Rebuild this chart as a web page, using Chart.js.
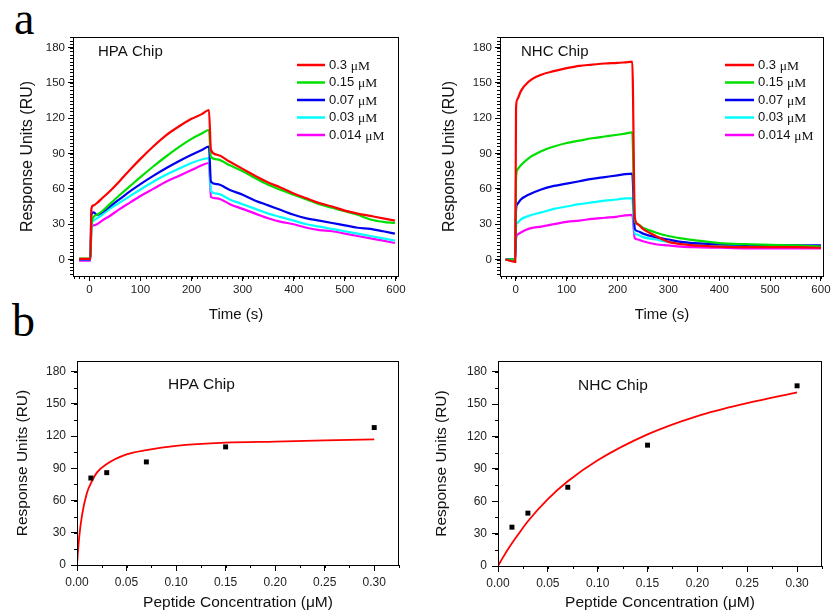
<!DOCTYPE html>
<html>
<head>
<meta charset="utf-8">
<script src="https://cdn.jsdelivr.net/npm/chart.js@4.4.0/dist/chart.umd.min.js"></script>
<style>
  body { margin: 0; background: #fff; }
  #fig { position: relative; width: 834px; height: 613px; overflow: hidden; background: #fff; }
  #fig canvas { position: absolute; }
  .panel { position: absolute; font-family: 'Liberation Serif', 'Times New Roman', serif; font-size: 46px; line-height: 1; color: #000; }
</style>
</head>
<body>
<div id="fig">
  <div class="panel" style="left:14px;top:-4px">a</div>
  <div class="panel" style="left:12px;top:298px">b</div>
  <canvas id="c1" width="417" height="330" style="left:0;top:0"></canvas>
  <canvas id="c2" width="417" height="330" style="left:417px;top:0"></canvas>
  <canvas id="c3" width="417" height="283" style="left:0;top:330px"></canvas>
  <canvas id="c4" width="417" height="283" style="left:417px;top:330px"></canvas>
</div>
<script>
// concentrations of the injected peptide (legend) and line colours
const concLabels = ['0.3', '0.15', '0.07', '0.03', '0.014'];
const lineColors = ['#ff0000', '#00e000', '#0000f0', '#00ffff', '#ff00ff'];

// sensorgram, HPA chip
const hpaTime    = [-20, 2, 4, 8, 15, 25, 40, 60, 80, 100, 125, 150, 175, 200, 220, 234, 238, 250, 275, 300, 325, 350, 375, 400, 425, 450, 475, 500, 525, 550, 575, 598];
const hpaRed     = [0.5, 0.5, 43, 46, 48, 52, 58, 67, 76.5, 85.5, 96, 105.5, 113, 119.5, 123.5, 127, 93, 89, 83, 77, 71, 65.5, 61, 56, 52, 48, 45, 41.5, 39, 37, 35, 33];
const hpaGreen   = [0.8, 0.8, 28, 36, 38, 41, 47, 55, 62.5, 70, 79, 87.5, 95.5, 102.5, 107, 110, 87, 85, 80, 75, 69, 63.5, 59, 55, 51, 47, 44, 41, 38, 34, 32, 31];
const hpaBlue    = [0, 0, 38, 40, 38, 40, 45, 51.5, 58, 64, 71, 77.5, 83.5, 89, 93, 96, 66, 64, 59, 55, 50, 46, 42, 38, 35, 33, 31, 29, 27, 26, 24, 22];
const hpaCyan    = [0, 0, 28, 33, 35, 38, 43, 48.5, 54, 59.5, 66, 72, 77, 82, 85, 86, 58, 56, 51, 47, 43, 39, 36, 33, 30, 28, 26, 24, 22, 20, 18, 16];
const hpaMagenta = [-1, -1, 27, 29, 30, 33, 37, 43, 48.5, 54, 60, 66, 71, 76, 80, 82, 53, 52, 47, 43, 39, 35, 32, 30, 27, 25, 24, 22, 20, 18, 16, 14];

// sensorgram, NHC chip
const nhcTime    = [-20, -1, 0.5, 3, 10, 25, 50, 75, 100, 125, 150, 175, 200, 215, 229, 234, 240, 250, 275, 300, 325, 350, 400, 450, 500, 550, 600];
const nhcRed     = [0, -2, 128, 136, 143, 151, 157, 160, 162.5, 164.5, 165.5, 166.5, 167, 167.5, 168, 36, 30, 26, 20, 15, 13, 12, 11, 10.5, 10.5, 10.5, 10];
const nhcGreen   = [0, 0, 68, 76, 80, 86, 92, 96, 99, 101, 103, 104.5, 106, 107, 108, 33, 30, 27, 23, 20, 18, 16.5, 14, 13, 12.5, 12, 11];
const nhcBlue    = [0, 0, 42, 47, 51, 55, 59.5, 62.5, 64.5, 66.5, 68.5, 70, 71.5, 72.5, 73, 26, 24, 22, 19, 17, 15, 14, 13, 12.5, 12, 12, 12];
const nhcCyan    = [0, 0, 28, 31, 34, 37, 40, 43, 45, 47, 48.5, 50, 51, 52, 52, 22, 21, 19, 17, 15, 14, 13, 12, 11.5, 11, 11, 11];
const nhcMagenta = [0, 0, 18, 21, 23, 26, 28, 30, 32, 33, 34.5, 35.5, 36.5, 37.5, 38, 18, 17, 15.5, 13, 12, 11, 10.5, 10, 9.5, 9.5, 9.5, 9.5];

// equilibrium response vs concentration
const peptideConc = [0.014, 0.03, 0.07, 0.15, 0.3];
const hpaResp     = [81, 86, 96, 110, 128];
const nhcResp     = [36, 49, 73, 112, 167];
// fitted curves
const fitConc = [0, 0.002, 0.005, 0.01, 0.015, 0.02, 0.03, 0.05, 0.07, 0.1, 0.15, 0.2, 0.25, 0.3];
const hpaFit  = [0, 24, 46, 67, 78, 86, 94, 103, 107, 111, 114, 115, 116, 117];
const nhcFit  = [0, 3.3, 8, 15.5, 22.5, 29, 41.5, 62, 78.5, 98, 122, 139, 151, 161];

// tick labels
const timeTicks = [0, 100, 200, 300, 400, 500, 600];
const concTicks = [0, 0.05, 0.1, 0.15, 0.2, 0.25, 0.3];
const respTicks = [0, 30, 60, 90, 120, 150, 180];

const SANS = "'Liberation Sans', Arial, sans-serif";
const SERIF = "'Liberation Serif', 'Times New Roman', serif";

function zip(xs, ys) {
  return xs.map((x, i) => ({ x: x, y: ys[i] }));
}

// frame, minor ticks, chip name and legend
const decor = {
  id: 'decor',
  afterDraw(chart, args, opts) {
    const ctx = chart.ctx;
    const a = chart.chartArea;
    const xs = chart.scales.x, ys = chart.scales.y;
    ctx.save();
    ctx.strokeStyle = '#000';
    ctx.lineWidth = 1;
    ctx.strokeRect(Math.round(a.left) + 0.5, Math.round(a.top) + 0.5,
      Math.round(a.right - a.left) - 1, Math.round(a.bottom - a.top));

    ctx.beginPath();
    for (let i = Math.ceil(xs.min / opts.minorX); i * opts.minorX <= xs.max + 1e-9; i++) {
      const px = Math.round(xs.getPixelForValue(i * opts.minorX)) + 0.5;
      ctx.moveTo(px, a.bottom);
      ctx.lineTo(px, a.bottom + opts.minorLen);
    }
    for (let i = Math.ceil(ys.min / opts.minorY); i * opts.minorY <= ys.max + 1e-9; i++) {
      const py = Math.round(ys.getPixelForValue(i * opts.minorY)) + 0.5;
      ctx.moveTo(a.left, py);
      ctx.lineTo(a.left - opts.minorLen, py);
    }
    ctx.stroke();

    ctx.fillStyle = '#111';
    ctx.textBaseline = 'middle';
    ctx.font = opts.chipSize + 'px ' + SANS;
    ctx.fillText(opts.chip, a.left + opts.chipX, a.top + opts.chipY);

    if (opts.legend) {
      const lg = opts.legend;
      let row = 0;
      chart.data.datasets.forEach(ds => {
        if (!ds.conc) return;
        const y = a.top + lg.y + row * lg.row;
        ctx.strokeStyle = ds.borderColor;
        ctx.lineWidth = 2.5;
        ctx.beginPath();
        ctx.moveTo(a.left + lg.x, y);
        ctx.lineTo(a.left + lg.x + lg.len, y);
        ctx.stroke();
        ctx.font = '13px ' + SANS;
        const tx = a.left + lg.x + lg.len + 4;
        ctx.fillText(ds.conc, tx, y);
        const w = ctx.measureText(ds.conc + ' ').width;
        ctx.font = '13.5px ' + SERIF;
        ctx.fillText('\u03bcM', tx + w, y + 1);
        row++;
      });
    }
    ctx.restore();
  }
};

function fixedTicks(list) {
  return scale => { scale.ticks = list.map(v => ({ value: v })); };
}

function makeChart(id, datasets, cfg) {
  return new Chart(document.getElementById(id), {
    type: 'line',
    data: { datasets: datasets },
    plugins: [decor],
    options: {
      responsive: false,
      animation: false,
      layout: { padding: { top: cfg.padTop, right: cfg.padRight, left: 0, bottom: 0 } },
      plugins: {
        legend: { display: false },
        tooltip: { enabled: false },
        decor: cfg.decor
      },
      scales: {
        x: {
          type: 'linear',
          min: cfg.xMin, max: cfg.xMax,
          afterBuildTicks: fixedTicks(cfg.xTicks),
          afterFit: s => { s.height = cfg.xHeight; },
          border: { display: false },
          grid: { drawOnChartArea: false, tickLength: cfg.tickLen, tickColor: '#000' },
          ticks: {
            color: '#222', font: { family: SANS, size: cfg.tickSize }, padding: cfg.xTickPad,
            maxRotation: 0, autoSkip: false,
            callback: cfg.xFormat
          },
          title: {
            display: true, text: cfg.xTitle, color: '#111',
            font: { family: SANS, size: cfg.titleSize }, padding: { top: 0, bottom: cfg.xTitlePad }
          }
        },
        y: {
          min: cfg.yMin, max: cfg.yMax,
          afterBuildTicks: fixedTicks(respTicks),
          afterFit: s => { s.width = cfg.yWidth; },
          border: { display: false },
          grid: { drawOnChartArea: false, tickLength: cfg.tickLen, tickColor: '#000' },
          ticks: { color: '#222', font: { family: SANS, size: cfg.tickSize }, padding: cfg.yTickPad },
          title: {
            display: true, text: 'Response Units (RU)', color: '#111',
            font: { family: SANS, size: cfg.yTitleSize }, padding: { top: cfg.yTitlePad, bottom: 0 }
          }
        }
      }
    }
  });
}

function sensorSets(time, series) {
  return series.map((vals, i) => ({
    conc: concLabels[i],
    data: zip(time, vals),
    borderColor: lineColors[i],
    borderWidth: 2.2,
    pointRadius: 0,
    cubicInterpolationMode: 'monotone',
    fill: false
  }));
}

function bindingSets(resp, fit) {
  return [
    {
      type: 'scatter',
      data: zip(peptideConc, resp),
      pointStyle: 'rect',
      pointRadius: 3.5,
      backgroundColor: '#000',
      borderColor: '#000',
      borderWidth: 0
    },
    {
      data: zip(fitConc, fit),
      borderColor: '#ff0000',
      borderWidth: 1.8,
      pointRadius: 0,
      cubicInterpolationMode: 'monotone',
      fill: false
    }
  ];
}

const topCfg = {
  xMin: -32, xMax: 606, yMin: -14, yMax: 189,
  xTicks: timeTicks, xTitle: 'Time (s)', xFormat: v => String(v),
  tickSize: 11.5, titleSize: 15, yTitleSize: 16, tickLen: 5,
  xHeight: 54, xTickPad: 2, xTitlePad: 6, yTickPad: 3
};
const botCfg = {
  xMin: 0, xMax: 0.325, yMin: 0, yMax: 190,
  xTicks: concTicks, xTitle: 'Peptide Concentration (\u03bcM)', xFormat: v => v.toFixed(2),
  tickSize: 12, titleSize: 15.5, yTitleSize: 15.5, tickLen: 6,
  xHeight: 48, xTickPad: 4, xTitlePad: 1, yTickPad: 5
};

makeChart('c1', sensorSets(hpaTime, [hpaRed, hpaGreen, hpaBlue, hpaCyan, hpaMagenta]),
  Object.assign({}, topCfg, {
    padTop: 37, padRight: 18, yWidth: 73, yTitlePad: 18,
    decor: { minorX: 10, minorY: 3, minorLen: 3, chip: 'HPA Chip', chipSize: 15, chipX: 25, chipY: 15,
             legend: { x: 224, y: 28, row: 17.5, len: 28 } }
  }));

makeChart('c2', sensorSets(nhcTime, [nhcRed, nhcGreen, nhcBlue, nhcCyan, nhcMagenta]),
  Object.assign({}, topCfg, {
    xMin: -31, padTop: 37, padRight: 10, yWidth: 83, yTitlePad: 23,
    decor: { minorX: 10, minorY: 3, minorLen: 3, chip: 'NHC Chip', chipSize: 15, chipX: 21, chipY: 15,
             legend: { x: 225, y: 28, row: 17.5, len: 29 } }
  }));

makeChart('c3', bindingSets(hpaResp, hpaFit),
  Object.assign({}, botCfg, {
    padTop: 31, padRight: 18, yWidth: 77, yTitlePad: 13,
    decor: { minorX: 0.025, minorY: 15, minorLen: 3, chip: 'HPA Chip', chipSize: 15.5, chipX: 91, chipY: 24 }
  }));

makeChart('c4', bindingSets(nhcResp, nhcFit),
  Object.assign({}, botCfg, {
    padTop: 31, padRight: 12, yWidth: 81, yTitlePad: 15, xHeight: 47,
    decor: { minorX: 0.025, minorY: 15, minorLen: 3, chip: 'NHC Chip', chipSize: 15.5, chipX: 80, chipY: 25 }
  }));
</script>
</body>
</html>
